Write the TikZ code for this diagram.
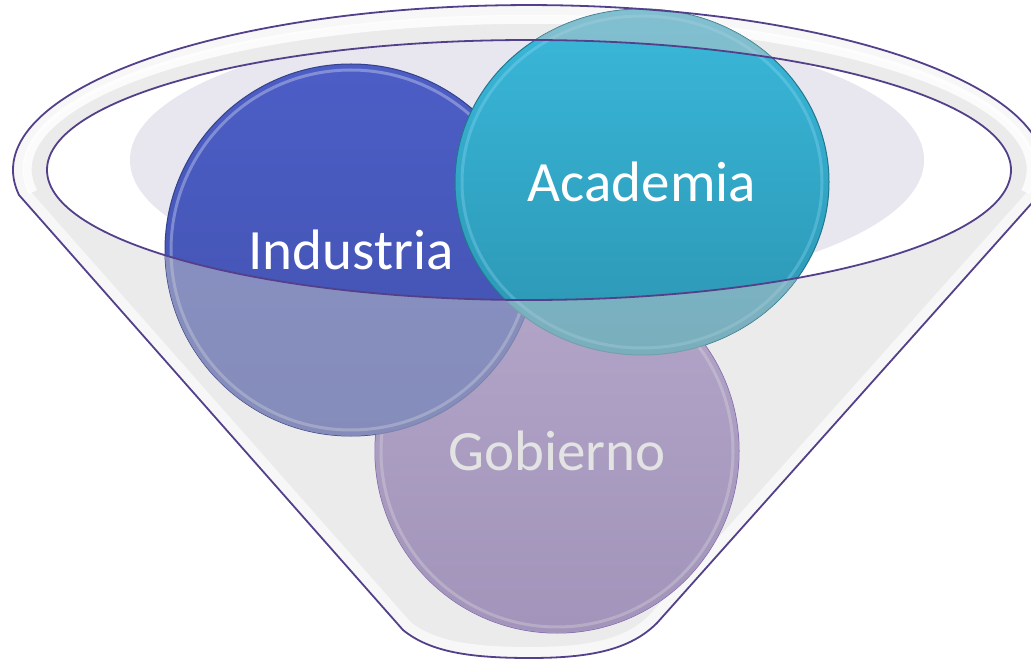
\documentclass[tikz,border=0pt]{standalone}
\usepackage{fontspec}
\setmainfont{Carlito}
\usetikzlibrary{shapes.geometric}

\definecolor{rimpurple}{HTML}{54408A}
\definecolor{funnelgray}{HTML}{EBEBEB}
\definecolor{backlilac}{HTML}{E8E6EF}
\definecolor{indblue}{HTML}{4C5EC6}
\definecolor{indbluedk}{HTML}{4251AE}
\definecolor{acateal}{HTML}{3AB8DA}
\definecolor{acatealdk}{HTML}{2B95B2}
\definecolor{gobpurple}{HTML}{8C6EC0}
\definecolor{gobpurpledk}{HTML}{7C60AC}
\definecolor{washgray}{HTML}{C8C8C8}

% outline of the funnel: rim on top, straight sides, round bottom
\newcommand{\funnelshape}{(19,195) arc[start angle=171.3,end angle=368.7,x radius=516,y radius=165]
  -- (657,623) .. controls (630,650) and (590,658) .. (530,658)
  .. controls (470,658) and (430,652) .. (403,630) -- cycle}

\begin{document}
\begin{tikzpicture}[x=1pt,y=-1pt,
  bubble/.style={circle,inner sep=0pt,minimum size=372pt,line width=1pt,text=white,font=\fontsize{57}{60}\selectfont},
  bevel/.style={draw=white,line width=3pt,opacity=0.3},
  rimline/.style={draw=rimpurple,line width=1.8pt}]
  \useasboundingbox (0,0) rectangle (1031,660);
  \clip (0,0) rectangle (1031,660);

  % funnel body
  \fill[funnelgray] \funnelshape;
  \begin{scope}
    \clip \funnelshape;
    \draw[white,line width=22pt,opacity=0.6] \funnelshape;
  \end{scope}
  \draw[white,line width=9pt,opacity=0.8] (33,192) arc[start angle=171.3,end angle=368.7,x radius=502,y radius=150];

  % opening
  \fill[white] (529,170) ellipse[x radius=482,y radius=130];
  \begin{scope}
    \clip (529,170) ellipse[x radius=482,y radius=130];
    \fill[backlilac] (527,160) ellipse[x radius=397,y radius=134];
  \end{scope}

  % the three sectors
  \node[bubble,minimum size=364pt,top color=gobpurple!85!white,bottom color=gobpurpledk,draw=gobpurpledk] (gob) at (557,451) {Gobierno};
  \draw[bevel] (gob.center) circle[radius=176];
  \node[bubble,top color=indblue,bottom color=indbluedk,draw=indbluedk!80!black] (ind) at (351,250) {Industria};
  \draw[bevel] (ind.center) circle[radius=180];
  \node[bubble,ellipse,minimum width=374pt,minimum height=346pt,top color=acateal,bottom color=acatealdk,draw=acatealdk!80!black] (aca) at (642,182) {Academia};
  \draw[bevel,draw=cyan!40!white] (aca.center) ellipse[x radius=180,y radius=166];

  % parts seen through the funnel wall
  \begin{scope}
    \clip (557,451) circle[radius=182] (351,250) circle[radius=186] (642,182) ellipse[x radius=187,y radius=173];
    \fill[washgray,opacity=0.5,even odd rule] (0,0) rectangle (1031,660) (529,170) ellipse[x radius=482,y radius=130];
  \end{scope}

  % outlines
  \draw[rimline] \funnelshape;
  \draw[rimline] (529,170) ellipse[x radius=482,y radius=130];
\end{tikzpicture}
\end{document}
